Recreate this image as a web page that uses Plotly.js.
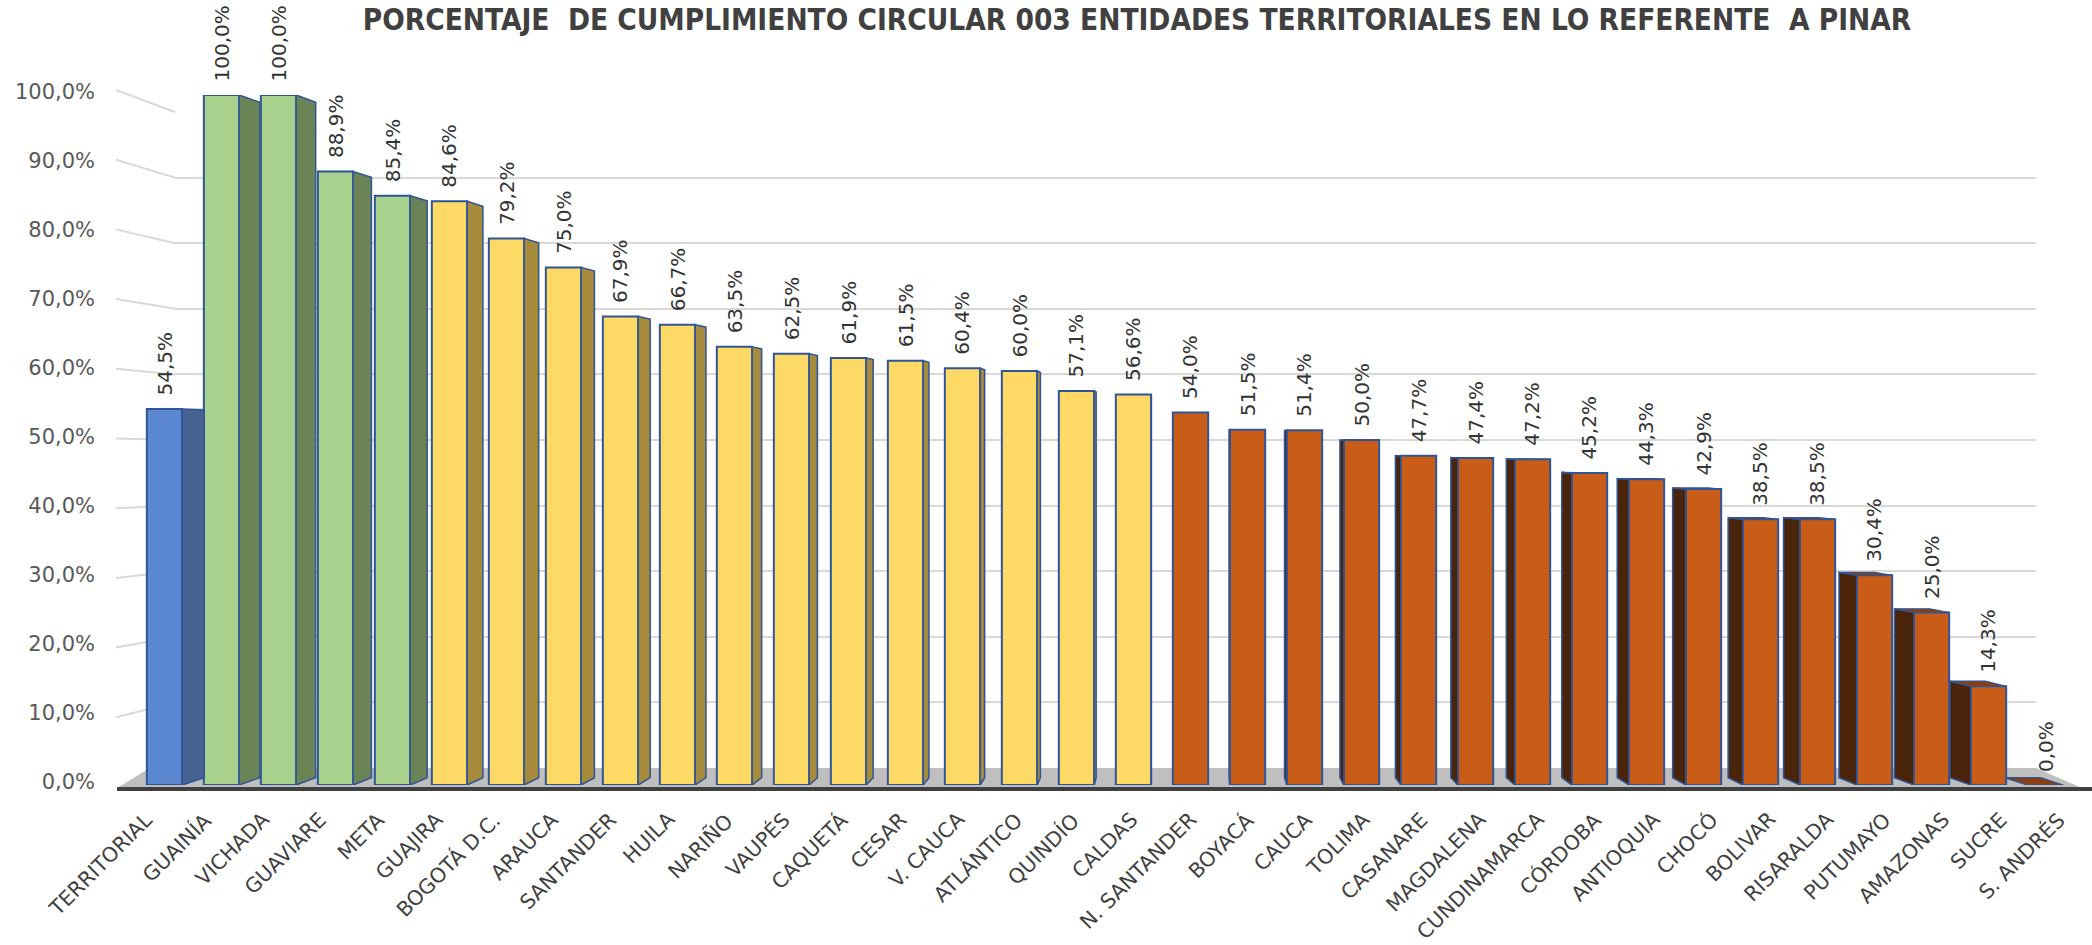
<!DOCTYPE html>
<html><head><meta charset="utf-8">
<script src="https://cdn.plot.ly/plotly-3.0.1.min.js"></script>
<style>html,body{margin:0;padding:0;background:#fff}#chart{width:2092px;height:945px}</style>
</head><body><div id="chart"></div>
<script>
const categories = ["TERRITORIAL","GUAINÍA","VICHADA","GUAVIARE","META","GUAJIRA","BOGOTÁ D.C.","ARAUCA","SANTANDER","HUILA","NARIÑO","VAUPÉS","CAQUETÁ","CESAR","V. CAUCA","ATLÁNTICO","QUINDÍO","CALDAS","N. SANTANDER","BOYACÁ","CAUCA","TOLIMA","CASANARE","MAGDALENA","CUNDINAMARCA","CÓRDOBA","ANTIOQUIA","CHOCÓ","BOLIVAR","RISARALDA","PUTUMAYO","AMAZONAS","SUCRE","S. ANDRÉS"];
const values = [54.5,100.0,100.0,88.9,85.4,84.6,79.2,75.0,67.9,66.7,63.5,62.5,61.9,61.5,60.4,60.0,57.1,56.6,54.0,51.5,51.4,50.0,47.7,47.4,47.2,45.2,44.3,42.9,38.5,38.5,30.4,25.0,14.3,0.0];
const groups = ["total","alto","alto","alto","alto","medio","medio","medio","medio","medio","medio","medio","medio","medio","medio","medio","medio","medio","bajo","bajo","bajo","bajo","bajo","bajo","bajo","bajo","bajo","bajo","bajo","bajo","bajo","bajo","bajo","bajo"];
const yTicks = [0,10,20,30,40,50,60,70,80,90,100];
const titleText = "PORCENTAJE  DE CUMPLIMIENTO CIRCULAR 003 ENTIDADES TERRITORIALES EN LO REFERENTE  A PINAR";

const palette = {
  total:{front:"#5B87D0", side:"#44618F", top:"#3B5A8E"},
  alto:{front:"#A9D18E", side:"#6A8455", top:"#7E9C66"},
  medio:{front:"#FFD966", side:"#A58B3B", top:"#C7A745"},
  bajo:{front:"#C95D17", side:"#4A230B", top:"#8A3F12"}
};
const outline = "#2F5597";

const W=2092, H=945, L=136, R=18, T=95, B=160;
const pw = W-L-R, ph = H-T-B;
const n = categories.length;
const idx = categories.map((_, i) => i);
const pitch = pw / n;
const hw = 0.31;
const depth = 0.43;
const wallPx0 = 768, wallPx100 = 112;
const wallVal = v => ((T+ph) - (wallPx0 + (wallPx100-wallPx0)*v/100)) / ph * 100;
const backVal = v => v + depth*(wallVal(v) - v);
function sideUnits(i){
  if (i < 17.6) return 1.25*(17.6-i)/pitch;
  if (i > 18.5) return -1.55*(i-18.5)/pitch;
  return 0;
}

const traces = [];
// grid subplot (drawn first, under bars)
traces.push({type:'scatter', x:[], y:[], xaxis:'x', yaxis:'y', hoverinfo:'skip', showlegend:false});

// front faces
traces.push({
  type:'bar', x:idx, y:values, width:hw*2, xaxis:'x2', yaxis:'y2',
  marker:{color:groups.map(g=>palette[g].front), line:{color:outline, width:2}},
  hoverinfo:'skip', showlegend:false
});

// side and top faces, one trace per group
Object.keys(palette).forEach(g => {
  const sx=[], sy=[], tx=[], ty=[];
  values.forEach((v,i) => {
    if (groups[i] !== g) return;
    const s = sideUnits(i);
    if (Math.abs(s) > 1e-6) {
      const xf = s > 0 ? i + hw : i - hw;
      const xb = xf + s;
      sx.push(xf, xf, xb, xb, xf, null);
      sy.push(0, v, backVal(v), backVal(0), 0, null);
    }
    const bv = backVal(v);
    if (bv > v + 0.05) {
      tx.push(i-hw, i+hw, i+hw+s, i-hw+s, i-hw, null);
      ty.push(v, v, bv, bv, v, null);
    }
  });
  if (sx.length) traces.push({type:'scatter', mode:'lines', x:sx, y:sy, fill:'toself', fillcolor:palette[g].side,
    line:{color:outline, width:1.5}, xaxis:'x2', yaxis:'y2', hoverinfo:'skip', showlegend:false});
  if (tx.length) traces.push({type:'scatter', mode:'lines', x:tx, y:ty, fill:'toself', fillcolor:palette[g].top,
    line:{color:outline, width:1.2}, xaxis:'x2', yaxis:'y2', hoverinfo:'skip', showlegend:false});
});

const px2x = p => (p - L)/pw;
const px2y = p => ((T+ph) - p)/ph;

const fmt = v => v.toFixed(1).replace('.', ',') + '%';
const valueLabels = values.map((v,i) => ({
  x:i, y:v, xref:'x2', yref:'y2', text:fmt(v), textangle:-90, showarrow:false,
  xanchor:'center', yanchor:'bottom', yshift:11,
  font:{family:'DejaVu Sans', size:20, color:'#333333'}
}));
// category labels, following the perspective of the floor
const categoryLabels = categories.map((c,i) => ({
  x:i, y:px2y(805), xref:'x2', yref:'paper', text:c, textangle:-45, showarrow:false,
  xanchor:'right', yanchor:'top', xshift:-4 + 0.95*i,
  font:{family:'DejaVu Sans', size:20.5, color:'#404040'}
}));

// perspective stubs of the side wall gridlines + floor
const shapes = [];
yTicks.filter(v => v > 0).forEach(v => {
  const yl = 90 + 6.97*(100-v), yw = wallPx100 + (wallPx0-wallPx100)*(100-v)/100;
  shapes.push({type:'line', xref:'paper', yref:'paper', x0:px2x(116), y0:px2y(yl), x1:px2x(175), y1:px2y(yw),
    line:{color:'#D9D9D9', width:2}, layer:'below'});
});
shapes.push({type:'path', xref:'paper', yref:'paper', layer:'below',
  path:`M ${px2x(117)},${px2y(788)} L ${px2x(150)},${px2y(wallPx0)} L ${px2x(2036)},${px2y(wallPx0)} L ${px2x(2082)},${px2y(788)} Z`,
  fillcolor:'#BFBFBF', line:{width:0}});
shapes.push({type:'line', xref:'paper', yref:'paper', layer:'below',
  x0:px2x(117), y0:px2y(789), x1:px2x(2092), y1:px2y(789), line:{color:'#404040', width:4}});

const layout = {
  width:W, height:H, margin:{l:L, r:R, t:T, b:B, pad:0},
  paper_bgcolor:'#FFFFFF', plot_bgcolor:'rgba(0,0,0,0)',
  separators:',.', showlegend:false, hovermode:false,
  title:{text:titleText, x:1137/W, xref:'container', xanchor:'center', y:1-30/H, yref:'container', yanchor:'bottom',
    font:{family:'DejaVu Sans Condensed', size:29.5, color:'#404040', weight:'bold'}},
  xaxis:{domain:[px2x(175), px2x(2036)], range:[0,1], anchor:'y', showgrid:false, zeroline:false, showline:false,
    showticklabels:false, ticks:''},
  yaxis:{domain:[px2y(wallPx0), px2y(wallPx100)], range:[0,100], anchor:'x', tickvals:yTicks.filter(v=>v>0),
    showgrid:true, gridcolor:'#D9D9D9', gridwidth:2, zeroline:false, showline:false, showticklabels:false, ticks:''},
  xaxis2:{domain:[0,1], range:[-0.5, n-0.5], anchor:'y2', tickvals:idx, showticklabels:false,
    showgrid:false, zeroline:false, showline:false, ticks:''},
  yaxis2:{domain:[0,1], range:[0,100], anchor:'x2', tickvals:yTicks, ticktext:yTicks.map(fmt),
    showgrid:false, zeroline:false, showline:false, ticks:'', ticklabelstandoff:40, ticklabelshift:-3,
    tickfont:{family:'DejaVu Sans', size:21, color:'#595959'}},
  annotations:valueLabels.concat(categoryLabels), shapes:shapes
};
Plotly.newPlot('chart', traces, layout, {staticPlot:true, displayModeBar:false});
</script></body></html>
